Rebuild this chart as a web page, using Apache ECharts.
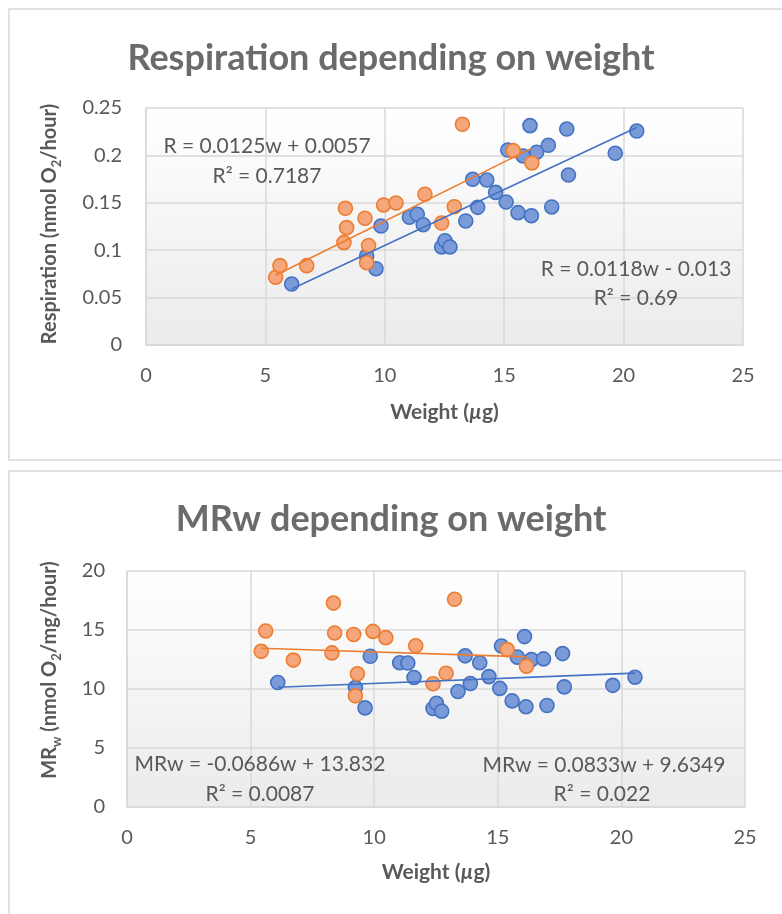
<!DOCTYPE html>
<html><head><meta charset="utf-8">
<script src="https://cdn.jsdelivr.net/npm/echarts@6/dist/echarts.min.js"></script>
<style>html,body{margin:0;padding:0;background:#fff}#c{width:782px;height:914px}</style>
</head><body><div id="c"></div>
<script>
// ---- data ----
const titles = ['Respiration depending on weight', 'MRw depending on weight'];
const xTicks = [0, 5, 10, 15, 20, 25];
const respTicks = [0, 0.05, 0.1, 0.15, 0.2, 0.25];
const mrTicks = [0, 5, 10, 15, 20];

const blueW = [6.10, 9.24, 9.63, 9.84, 11.03, 11.36, 11.61, 12.38, 12.52, 12.73, 13.39, 13.68, 13.89, 14.27, 14.64, 15.08, 15.15, 15.58, 15.79, 16.08, 16.14, 16.36, 16.85, 16.99, 17.62, 17.69, 19.65, 20.55];
const blueR = [0.0643, 0.0939, 0.0805, 0.1255, 0.1347, 0.1379, 0.1269, 0.1034, 0.110, 0.1034, 0.1308, 0.1748, 0.1452, 0.174, 0.161, 0.1508, 0.2057, 0.1396, 0.1994, 0.2314, 0.1364, 0.2033, 0.2107, 0.1456, 0.2278, 0.1793, 0.2022, 0.2257];
const blueMR = [10.55, 10.12, 8.4, 12.77, 12.23, 12.2, 10.98, 8.35, 8.79, 8.12, 9.79, 12.81, 10.47, 12.23, 11.05, 10.05, 13.64, 8.99, 12.7, 14.44, 8.5, 12.49, 12.55, 8.6, 13.0, 10.18, 10.31, 11.0];

const orangeW = [5.43, 5.61, 6.73, 8.29, 8.35, 8.40, 9.17, 9.24, 9.32, 9.95, 10.47, 11.68, 12.38, 12.91, 13.25, 15.38, 16.16];
const orangeR = [0.0714, 0.0837, 0.0837, 0.108, 0.1442, 0.1238, 0.1337, 0.0868, 0.105, 0.1477, 0.1498, 0.159, 0.1287, 0.1459, 0.2328, 0.205, 0.192];
const orangeMR = [13.19, 14.92, 12.45, 13.06, 17.28, 14.75, 14.62, 9.42, 11.29, 14.88, 14.35, 13.66, 10.44, 11.33, 17.6, 13.34, 11.93];

// trendline coefficients [slope, intercept] as printed on the chart
const blueRFit = [0.0118, -0.013];
const orangeRFit = [0.0125, 0.0057];
const blueMRFit = [0.0833, 9.6349];
const orangeMRFit = [-0.0686, 13.832];

const eqTexts = {
  orangeR: ['R = 0.0125w + 0.0057', 'R\u00b2 = 0.7187'],
  blueR: ['R = 0.0118w - 0.013', 'R\u00b2 = 0.69'],
  orangeMR: ['MRw = -0.0686w + 13.832', 'R\u00b2 = 0.0087'],
  blueMR: ['MRw = 0.0833w + 9.6349', 'R\u00b2 = 0.022']
};

// ---- style ----
const FONT = 'Lato';
const GRAY = '#595959';
const GRID_C = '#d9d9d9';
const BLUE = '#4472C4', BLUE_F = '#7b9ad8';
const ORANGE = '#ED7D31', ORANGE_F = '#f5a67a';

const pairs = (xs, ys) => xs.map((x, i) => [x, ys[i]]);
const fitLine = (xs, f) => {
  const lo = Math.min(...xs), hi = Math.max(...xs);
  return [[lo, f[0] * lo + f[1]], [hi, f[0] * hi + f[1]]];
};

const plotBg = {type: 'linear', x: 0, y: 0, x2: 0, y2: 1,
  colorStops: [{offset: 0, color: '#ffffff'}, {offset: 1, color: '#ebebeb'}]};

function xAx(gi, gap, margin) {
  return {
    type: 'value', gridIndex: gi, min: xTicks[0], max: xTicks[xTicks.length - 1], interval: 5,
    axisLine: {show: true, lineStyle: {color: GRID_C, width: 1.5}},
    axisTick: {show: false},
    splitLine: {show: true, lineStyle: {color: GRID_C, width: 1.5}},
    axisLabel: {color: GRAY, fontFamily: FONT, fontSize: 20, margin: margin},
    name: '{a|Weight (}{i|\u00b5}{a|g)}', nameLocation: 'middle', nameGap: gap,
    nameTextStyle: {rich: {
      a: {fontFamily: FONT, fontWeight: 'bold', fontSize: 21, color: GRAY},
      i: {fontFamily: FONT, fontWeight: 'bold', fontStyle: 'italic', fontSize: 21, color: GRAY}
    }}
  };
}
function yAx(gi, ticks, interval, margin) {
  return {
    type: 'value', gridIndex: gi, min: ticks[0], max: ticks[ticks.length - 1], interval: interval,
    axisLine: {show: true, lineStyle: {color: GRID_C, width: 1.5}},
    axisTick: {show: false},
    splitLine: {show: true, lineStyle: {color: GRID_C, width: 1.5}},
    axisLabel: {color: GRAY, fontFamily: FONT, fontSize: 20, margin: margin}
  };
}
function scat(name, gi, data, stroke, fill, z) {
  return {
    type: 'scatter', name: name, xAxisIndex: gi, yAxisIndex: gi, data: data,
    symbol: 'circle', symbolSize: 14, z: z,
    itemStyle: {color: fill, borderColor: stroke, borderWidth: 1.6, opacity: 1}
  };
}
function trend(gi, data, color) {
  return {
    type: 'line', xAxisIndex: gi, yAxisIndex: gi, data: data, showSymbol: false, silent: true,
    lineStyle: {color: color, width: 1.6}, z: 10, animation: false
  };
}
function eq(x, y, txt) {
  return {type: 'text', x: x, y: y, z: 100,
    style: {text: txt, fill: GRAY, font: '21px ' + FONT, align: 'center', verticalAlign: 'middle'}};
}
const yTitleRich = {
  a: {fontFamily: FONT, fontWeight: 'bold', fontSize: 20, fill: GRAY, lineHeight: 22, verticalAlign: 'bottom'},
  s: {fontFamily: FONT, fontWeight: 'bold', fontSize: 13, fill: GRAY, lineHeight: 14, verticalAlign: 'bottom', padding: [0, 0, -3, 0]}
};

const chart = echarts.init(document.getElementById('c'), null, {renderer: 'canvas'});
chart.setOption({
  animation: false,
  backgroundColor: '#ffffff',
  title: [
    {text: titles[0], left: 'center', top: 35, textStyle: {fontFamily: FONT, fontWeight: 'bold', fontSize: 36, color: '#6b6b6b'}},
    {text: titles[1], left: 'center', top: 496, textStyle: {fontFamily: FONT, fontWeight: 'bold', fontSize: 36, color: '#6b6b6b'}}
  ],
  grid: [
    {left: 146, top: 108, width: 597, height: 237, show: true, backgroundColor: plotBg, borderWidth: 0},
    {left: 127, top: 571, width: 618, height: 236, show: true, backgroundColor: plotBg, borderWidth: 0}
  ],
  xAxis: [xAx(0, 57, 21), xAx(1, 55, 21)],
  yAxis: [yAx(0, respTicks, 0.05, 24), yAx(1, mrTicks, 5, 22)],
  series: [
    scat('blueR', 0, pairs(blueW, blueR), BLUE, BLUE_F, 3),
    scat('orangeR', 0, pairs(orangeW, orangeR), ORANGE, ORANGE_F, 4),
    trend(0, fitLine(blueW, blueRFit), BLUE),
    trend(0, fitLine(orangeW, orangeRFit), ORANGE),
    scat('blueMR', 1, pairs(blueW, blueMR), BLUE, BLUE_F, 3),
    scat('orangeMR', 1, pairs(orangeW, orangeMR), ORANGE, ORANGE_F, 4),
    trend(1, fitLine(blueW, blueMRFit), BLUE),
    trend(1, fitLine(orangeW, orangeMRFit), ORANGE)
  ],
  graphic: [
    {type: 'rect', shape: {x: 9, y: 9, width: 800, height: 451}, z: -10, silent: true,
      style: {fill: 'none', stroke: GRID_C, lineWidth: 1.5}},
    {type: 'rect', shape: {x: 9, y: 471, width: 800, height: 480}, z: -10, silent: true,
      style: {fill: 'none', stroke: GRID_C, lineWidth: 1.5}},
    eq(267, 146, eqTexts.orangeR[0]), eq(267, 176, eqTexts.orangeR[1]),
    eq(636, 269, eqTexts.blueR[0]), eq(636, 298, eqTexts.blueR[1]),
    eq(260, 764, eqTexts.orangeMR[0]), eq(260, 794, eqTexts.orangeMR[1]),
    eq(604, 765, eqTexts.blueMR[0]), eq(602, 794, eqTexts.blueMR[1]),
    {type: 'text', x: 49, y: 224, rotation: Math.PI / 2, z: 100,
      style: {text: '{a|Respiration (nmol O}{s|2}{a|/hour)}', align: 'center', verticalAlign: 'middle', rich: yTitleRich}},
    {type: 'text', x: 49, y: 670, rotation: Math.PI / 2, z: 100,
      style: {text: '{a|MR}{s|w}{a| (nmol O}{s|2}{a|/mg/hour)}', align: 'center', verticalAlign: 'middle', rich: yTitleRich}}
  ]
});
</script>
</body></html>
